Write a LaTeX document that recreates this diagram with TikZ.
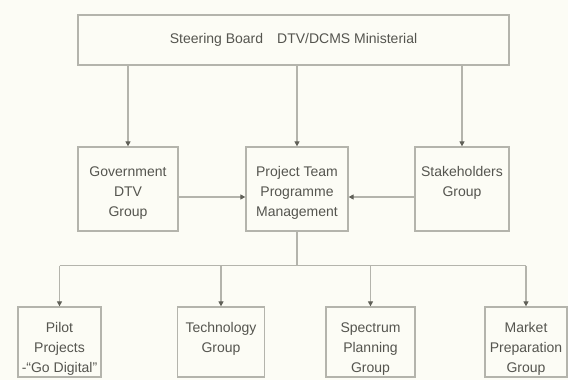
\documentclass[tikz,border=0pt]{standalone}
\usepackage{fontspec}
\setmainfont{Liberation Sans}
\usetikzlibrary{positioning,arrows.meta}
\definecolor{paper}{HTML}{FCFCF5}
\definecolor{linegray}{HTML}{B4B4AC}
\definecolor{tipgray}{HTML}{606058}
\definecolor{textgray}{HTML}{55554F}
\tikzset{
  box/.style={draw=linegray, line width=1.3pt, inner sep=0pt},
  boxtext/.style={anchor=north, align=center, inner sep=0pt, font=\fontsize{14}{20}\selectfont, text=textgray},
  arr/.style={draw=linegray, line width=1.3pt, -{Triangle[length=5pt,width=5pt,color=tipgray]}},
  link/.style={draw=linegray, line width=1.3pt}
}
\begin{document}
\begin{tikzpicture}[x=1pt, y=-1pt]
\fill[paper] (0,0) rectangle (568,380);
\useasboundingbox (0,0) rectangle (568,380);
% steering board
\node[box, minimum width=431, minimum height=50, font=\fontsize{14}{20}\selectfont, text=textgray] (steer) at (293.5,40) {Steering Board\quad DTV/DCMS Ministerial};
% middle row
\node[box, minimum width=100, minimum height=84, label={[boxtext, yshift=-20pt]north:Government\\DTV\\Group}] (gov) at (128,189) {};
\node[box, minimum width=102, minimum height=84, label={[boxtext, yshift=-20pt]north:Project Team\\Programme\\Management}] (proj) at (297,189) {};
\node[box, minimum width=94, minimum height=84, label={[boxtext, yshift=-20pt]north:Stakeholders\\Group}] (stake) at (462,189) {};
% bottom row
\node[box, minimum width=83, minimum height=70, label={[boxtext, yshift=-16pt]north:Pilot\\Projects\\-``Go Digital''}] (pilot) at (59.5,342) {};
\node[box, minimum width=87, minimum height=70, label={[boxtext, yshift=-16pt]north:Technology\\Group}] (tech) at (221,342) {};
\node[box, minimum width=89, minimum height=70, label={[boxtext, yshift=-16pt]north:Spectrum\\Planning\\Group}] (spec) at (370.5,342) {};
\node[box, minimum width=82, minimum height=70, label={[boxtext, yshift=-16pt]north:Market\\Preparation\\Group}] (market) at (526,342) {};
% connectors
\draw[arr] (gov.north |- steer.south) -- (gov.north);
\draw[arr] (proj.north |- steer.south) -- (proj.north);
\draw[arr] (stake.north |- steer.south) -- (stake.north);
\draw[arr] ([yshift=-8pt]gov.east) -- ([yshift=-8pt]proj.west);
\draw[arr] ([yshift=-8pt]stake.west) -- ([yshift=-8pt]proj.east);
\draw[link] (proj.south) -- ++(0,34) coordinate (bus);
\draw[link] (bus -| pilot) -- (bus -| market);
\draw[arr] (bus -| pilot) -- (pilot.north);
\draw[arr] (bus -| tech) -- (tech.north);
\draw[arr] (bus -| spec) -- (spec.north);
\draw[arr] (bus -| market) -- (market.north);
\end{tikzpicture}
\end{document}
